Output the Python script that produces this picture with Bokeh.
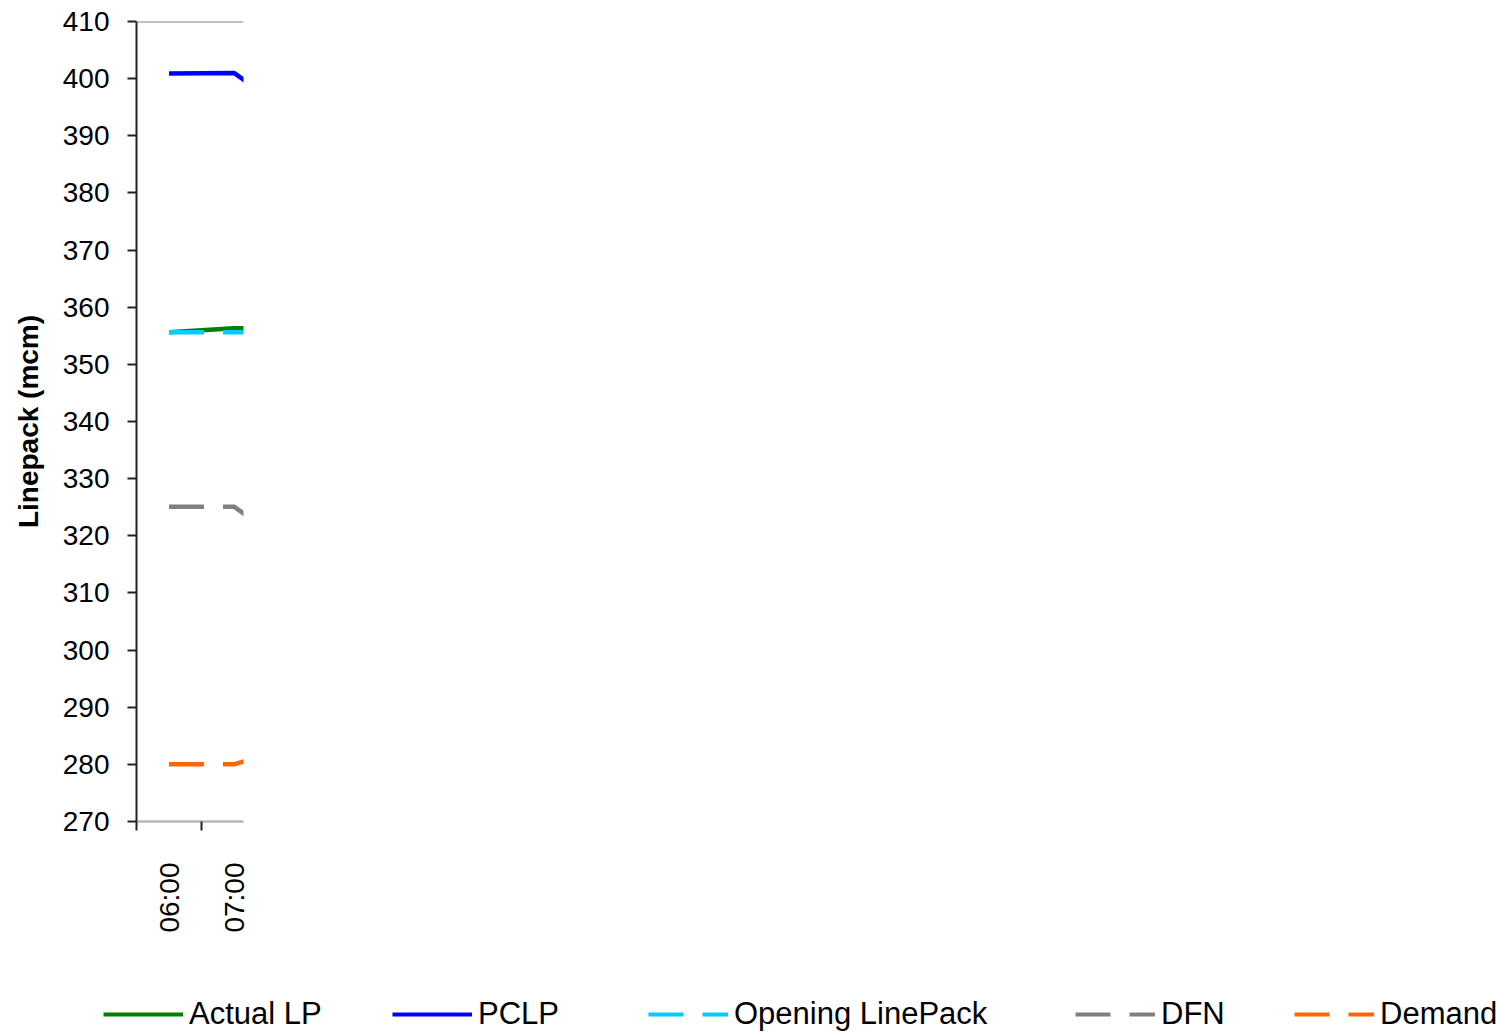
import math
import numpy as np
from bokeh.plotting import figure
from bokeh.models import (Range1d, FixedTicker, Span, Legend, LegendItem, ColumnDataSource)
from bokeh.embed import file_html
from bokeh.resources import INLINE

# ---- data ----
hours = ["06:00", "07:00", "08:00"]
hour_index = [0, 1, 2]
actual_lp = [355.6, 356.3, 356.5]
pclp = [400.9, 401.0, 393.0]
opening_lp = [355.6, 355.6, 355.6]
dfn = [325.1, 325.1, 317.0]
demand = [280.0, 280.0, 283.5]
y_ticks = list(range(270, 411, 10))

series_names = ["Actual LP", "PCLP", "Opening LinePack", "DFN", "Demand"]
series_cols = ["actual", "pclp", "opening", "dfn", "demand"]

FONT = "Liberation Sans"
DASH = "35 19"
colors = ["#008000", "#0000ff", "#00ccff", "#808080", "#ff6600"]
dashes = ["solid", "solid", DASH, DASH, DASH]

p = figure(width=1500, height=960, output_backend="svg", toolbar_location=None,
           x_range=Range1d(-0.5, 1.146), y_range=Range1d(270, 410),
           min_border_left=136, min_border_right=1257, min_border_top=21,
           min_border_bottom=139)
p.frame_width = 107
p.frame_height = 800
p.outline_line_color = None
p.xgrid.visible = False
p.ygrid.visible = False

src = ColumnDataSource(dict(x=hour_index, actual=actual_lp, pclp=pclp,
                            opening=opening_lp, dfn=dfn, demand=demand))

draw_order = [3, 4, 0, 2, 1]
for i in draw_order:
    p.line("x", series_cols[i], source=src, line_color=colors[i], line_width=4.5,
           line_dash=dashes[i])

# top border of plot area
p.add_layout(Span(location=410, dimension="width", line_color="#808080", line_width=2))

# y axis
p.yaxis.ticker = FixedTicker(ticks=y_ticks)
p.yaxis.axis_line_color = "#222222"
p.yaxis.axis_line_width = 2
p.yaxis.major_tick_line_color = "#222222"
p.yaxis.major_tick_line_width = 2
p.yaxis.major_tick_out = 9
p.yaxis.major_tick_in = 0
p.yaxis.minor_tick_line_color = None
p.yaxis.major_label_text_font = FONT
p.yaxis.major_label_text_font_size = "28px"
p.yaxis.major_label_text_color = "black"
p.yaxis.major_label_standoff = 18
p.yaxis.axis_label = "Linepack (mcm)"
p.yaxis.axis_label_text_font = FONT
p.yaxis.axis_label_text_font_size = "28px"
p.yaxis.axis_label_text_font_style = "bold"
p.yaxis.axis_label_text_color = "black"
p.yaxis.axis_label_standoff = 16

# x axis
p.xaxis.ticker = FixedTicker(ticks=hour_index, minor_ticks=[-0.5, 0.5, 1.5])
p.xaxis.major_label_overrides = {i: h for i, h in zip(hour_index, hours)}
p.xaxis.major_label_orientation = math.pi / 2
p.xaxis.major_label_text_font = FONT
p.xaxis.major_label_text_font_size = "28px"
p.xaxis.major_label_text_color = "black"
p.xaxis.major_label_standoff = 32
p.xaxis.major_tick_line_color = None
p.xaxis.major_tick_out = 8
p.xaxis.major_tick_in = 0
p.xaxis.minor_tick_line_color = "#222222"
p.xaxis.minor_tick_line_width = 2
p.xaxis.minor_tick_out = 9
p.xaxis.minor_tick_in = 0
p.xaxis.axis_line_color = "#b8b8b8"
p.xaxis.axis_line_width = 2.5

# ---- legend strip: a separate root so its frame is not aligned to the chart ----
lf = figure(width=1500, height=72, output_backend="svg", toolbar_location=None,
            x_range=Range1d(0, 1), y_range=Range1d(0, 1),
            min_border=0, outline_line_color=None)
lf.axis.visible = False
lf.grid.visible = False
legend_x = [103, 392, 648, 1075, 1294]   # layout offsets of the legend entries
for name, color, dash, lx in zip(series_names, colors, dashes, legend_x):
    holder = ColumnDataSource(dict(x=np.array([np.nan]), y=np.array([np.nan])))
    r = lf.line("x", "y", source=holder, line_color=color, line_width=4, line_dash=dash)
    lg = Legend(items=[LegendItem(label=name, renderers=[r])],
                location=(lx, 0), orientation="horizontal",
                glyph_width=80, glyph_height=34, label_height=34,
                label_standoff=6, padding=0, margin=0, spacing=0,
                label_text_font=FONT, label_text_font_size="31px",
                label_text_color="black", border_line_color=None,
                background_fill_alpha=0)
    lf.add_layout(lg, "center")

open("out.html", "w").write(file_html([p, lf], INLINE))
